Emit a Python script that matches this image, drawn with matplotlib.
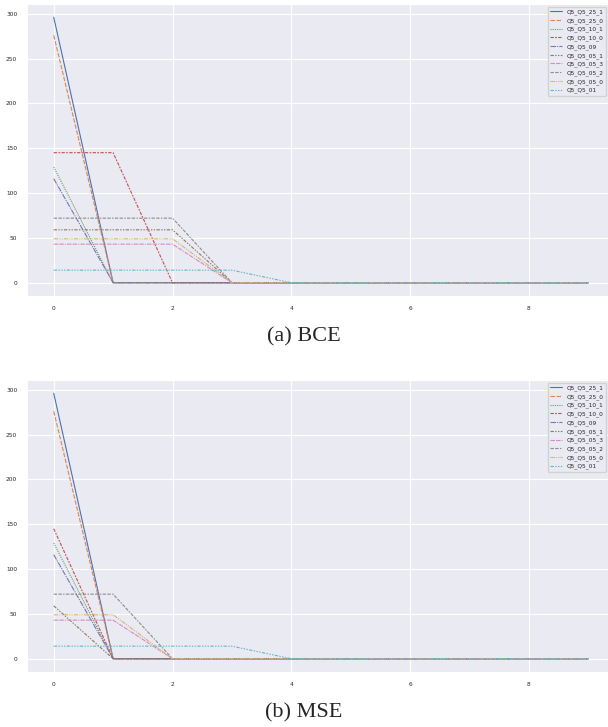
import matplotlib
matplotlib.use("Agg")
import matplotlib.pyplot as plt
import seaborn as sns

# epochs on the x axis
steps = list(range(10))

labels = ["Q5_Q5_25_1", "Q5_Q5_25_0", "Q5_Q5_10_1", "Q5_Q5_10_0", "Q5_Q5_09",
          "Q5_Q5_05_1", "Q5_Q5_05_3", "Q5_Q5_05_2", "Q5_Q5_05_0", "Q5_Q5_01"]

# (a) BCE
bce_25_1 = [296, 0, 0, 0, 0, 0, 0, 0, 0, 0]
bce_25_0 = [276, 0, 0, 0, 0, 0, 0, 0, 0, 0]
bce_10_1 = [129, 0, 0, 0, 0, 0, 0, 0, 0, 0]
bce_10_0 = [145, 145, 0, 0, 0, 0, 0, 0, 0, 0]
bce_09 = [116, 0, 0, 0, 0, 0, 0, 0, 0, 0]
bce_05_1 = [59, 59, 59, 0, 0, 0, 0, 0, 0, 0]
bce_05_3 = [43, 43, 43, 0, 0, 0, 0, 0, 0, 0]
bce_05_2 = [72, 72, 72, 0, 0, 0, 0, 0, 0, 0]
bce_05_0 = [49, 49, 49, 0, 0, 0, 0, 0, 0, 0]
bce_01 = [14, 14, 14, 14, 0, 0, 0, 0, 0, 0]

# (b) MSE
mse_25_1 = [296, 0, 0, 0, 0, 0, 0, 0, 0, 0]
mse_25_0 = [276, 0, 0, 0, 0, 0, 0, 0, 0, 0]
mse_10_1 = [129, 0, 0, 0, 0, 0, 0, 0, 0, 0]
mse_10_0 = [145, 0, 0, 0, 0, 0, 0, 0, 0, 0]
mse_09 = [116, 0, 0, 0, 0, 0, 0, 0, 0, 0]
mse_05_1 = [59, 0, 0, 0, 0, 0, 0, 0, 0, 0]
mse_05_3 = [43, 43, 0, 0, 0, 0, 0, 0, 0, 0]
mse_05_2 = [72, 72, 0, 0, 0, 0, 0, 0, 0, 0]
mse_05_0 = [49, 49, 0, 0, 0, 0, 0, 0, 0, 0]
mse_01 = [14, 14, 14, 14, 0, 0, 0, 0, 0, 0]

bce = [bce_25_1, bce_25_0, bce_10_1, bce_10_0, bce_09,
       bce_05_1, bce_05_3, bce_05_2, bce_05_0, bce_01]
mse = [mse_25_1, mse_25_0, mse_10_1, mse_10_0, mse_09,
       mse_05_1, mse_05_3, mse_05_2, mse_05_0, mse_01]

sns.set_style("darkgrid")
colors = sns.color_palette("deep", 10)

# seaborn's default dash sequence for a style variable
dashes = ["", (4, 1.5), (1, 1), (3, 1.25, 1.5, 1.25), (5, 1, 1, 1),
          (3, 1.25, 1.25, 1.25, 1.25, 1.25), (4, 1, 4, 1, 1, 1),
          (3, 1.25, 3, 1.25, 1.25, 1.25), (4, 1, 1, 1, 1, 1),
          (3, 1.25, 1.25, 1.25, 1.25, 1.25, 1.25, 1.25)]

fig = plt.figure(figsize=(6.08, 7.27), dpi=100)
W, H = 608.0, 727.0
ax_top = fig.add_axes([27 / W, 1 - 296 / H, 588 / W, 292 / H])
ax_bot = fig.add_axes([27 / W, 1 - 672 / H, 588 / W, 292 / H])


def draw(ax, series, top_px):
    for vals, lab, col, d in zip(series, labels, colors, dashes):
        if d == "":
            ax.plot(steps, vals, color=col, lw=0.8, label=lab)
        else:
            ax.plot(steps, vals, color=col, lw=0.8, dashes=d, label=lab)
    ax.set_xticks([0, 2, 4, 6, 8])
    ax.set_yticks([0, 50, 100, 150, 200, 250, 300])
    ax.tick_params(labelsize=4.2, pad=3.5)
    for g in ax.get_xgridlines() + ax.get_ygridlines():
        g.set_linewidth(0.8)
    # keep the legend just inside the right edge of the picture
    ax.legend(loc="upper right", fontsize=4.2, borderaxespad=0,
              bbox_to_anchor=(606 / W, 1 - top_px / H),
              bbox_transform=fig.transFigure)


draw(ax_top, bce, 7)
draw(ax_bot, mse, 383)

fig.text(0.5, 1 - 337 / H, "(a) BCE", ha="center", va="center",
         family="Liberation Serif", fontsize=16)
fig.text(0.5, 1 - 713 / H, "(b) MSE", ha="center", va="center",
         family="Liberation Serif", fontsize=16)

fig.savefig("out.png", dpi=100)
